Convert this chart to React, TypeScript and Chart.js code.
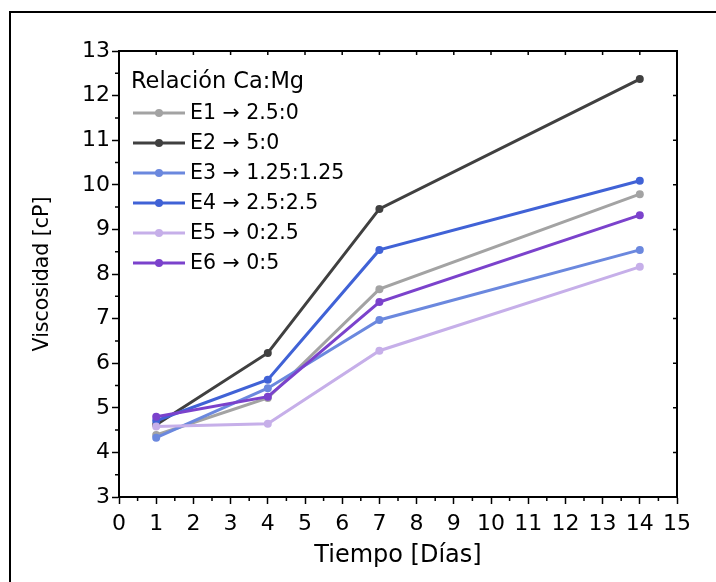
import { useEffect, useRef } from 'react';
import { Chart, registerables } from 'chart.js';
Chart.register(...registerables);

const days = [1, 4, 7, 14];
const seriesLabels = ['E1 → 2.5:0', 'E2 → 5:0', 'E3 → 1.25:1.25', 'E4 → 2.5:2.5', 'E5 → 0:2.5', 'E6 → 0:5'];
const e1 = [4.39, 5.22, 7.66, 9.79];
const e2 = [4.62, 6.23, 9.46, 12.37];
const e3 = [4.33, 5.44, 6.97, 8.54];
const e4 = [4.71, 5.63, 8.54, 10.09];
const e5 = [4.58, 4.64, 6.28, 8.16];
const e6 = [4.80, 5.25, 7.37, 9.32];
const seriesValues = [e1, e2, e3, e4, e5, e6];
const colors = ['#a3a3a3', '#404040', '#6b88de', '#4062d6', '#c6afe9', '#7b42cc'];
const legendTitle = 'Relación Ca:Mg';
const xTitle = 'Tiempo [Días]';
const yTitle = 'Viscosidad [cP]';
const xMin = 0, xMax = 15, yMin = 3, yMax = 13;

const FONT = 'DejaVu Sans';

const framePlugin = {
  id: 'framePlugin',
  afterDraw(chart: any) {
    const { ctx, chartArea } = chart;
    const xs = chart.scales.x;
    const ys = chart.scales.y;
    ctx.save();
    ctx.strokeStyle = '#000';
    ctx.lineWidth = 2;
    ctx.beginPath();
    ctx.moveTo(chartArea.left, chartArea.top);
    ctx.lineTo(chartArea.right, chartArea.top);
    ctx.lineTo(chartArea.right, chartArea.bottom);
    ctx.stroke();
    ctx.lineWidth = 1.5;
    ctx.beginPath();
    for (let v = xMin + 0.5; v < xMax; v += 1) {
      const px = xs.getPixelForValue(v);
      ctx.moveTo(px, chartArea.bottom);
      ctx.lineTo(px, chartArea.bottom + 4);
    }
    for (let v = yMin + 0.5; v < yMax; v += 1) {
      const py = ys.getPixelForValue(v);
      ctx.moveTo(chartArea.left, py);
      ctx.lineTo(chartArea.left - 4, py);
    }
    for (let v = xMin + 1; v < xMax; v += 1) {
      const px = xs.getPixelForValue(v);
      ctx.moveTo(px, chartArea.top);
      ctx.lineTo(px, chartArea.top + 4);
    }
    for (let v = yMin + 1; v < yMax; v += 1) {
      const py = ys.getPixelForValue(v);
      ctx.moveTo(chartArea.right, py);
      ctx.lineTo(chartArea.right - 4, py);
    }
    ctx.stroke();
    ctx.lineWidth = 2;
    ctx.strokeRect(10, 12, 720, 600);

    ctx.fillStyle = '#000';
    ctx.textBaseline = 'middle';
    ctx.textAlign = 'left';
    ctx.font = `22.5px "${FONT}"`;
    ctx.fillText(legendTitle, 131, 82);
    ctx.font = `20.5px "${FONT}"`;
    chart.data.datasets.forEach((ds: any, i: number) => {
      const y = 113 + i * 30;
      ctx.strokeStyle = ds.borderColor;
      ctx.lineWidth = 3;
      ctx.beginPath();
      ctx.moveTo(133, y);
      ctx.lineTo(185, y);
      ctx.stroke();
      ctx.fillStyle = ds.borderColor;
      ctx.beginPath();
      ctx.arc(159, y, 4, 0, Math.PI * 2);
      ctx.fill();
      ctx.fillStyle = '#000';
      ctx.fillText(ds.label, 190, y + 1);
    });
    ctx.restore();
  },
};

export default function App() {
  const ref = useRef<HTMLCanvasElement>(null);
  useEffect(() => {
    if (!ref.current) return;
    const chart = new Chart(ref.current, {
      type: 'line',
      data: {
        datasets: seriesValues.map((vals, i) => ({
          label: seriesLabels[i],
          data: days.map((d, j) => ({ x: d, y: vals[j] })),
          borderColor: colors[i],
          backgroundColor: colors[i],
          pointBackgroundColor: colors[i],
          pointBorderColor: colors[i],
          borderWidth: 3,
          pointRadius: 4,
          pointBorderWidth: 0,
          tension: 0,
          order: seriesValues.length - i,
        })),
      },
      options: {
        responsive: false,
        animation: false,
        layout: { padding: { left: 0, right: 39, top: 51, bottom: 0 } },
        plugins: { legend: { display: false }, tooltip: { enabled: false } },
        scales: {
          x: {
            type: 'linear',
            min: xMin,
            max: xMax,
            afterFit(scale: any) { scale.height = 85; },
            ticks: { stepSize: 1, color: '#000', font: { family: FONT, size: 22 }, padding: 7, maxRotation: 0, autoSkip: false },
            grid: { display: true, drawOnChartArea: false, drawTicks: true, tickLength: 7, tickWidth: 1.5, tickColor: '#000' },
            border: { display: true, color: '#000', width: 2 },
            title: { display: true, text: xTitle, color: '#000', font: { family: FONT, size: 24 }, padding: { top: 0, bottom: 12 } },
          },
          y: {
            type: 'linear',
            min: yMin,
            max: yMax,
            afterFit(scale: any) { scale.width = 119; },
            ticks: { stepSize: 1, color: '#000', font: { family: FONT, size: 22 }, padding: 2, autoSkip: false },
            grid: { display: true, drawOnChartArea: false, drawTicks: true, tickLength: 7, tickWidth: 1.5, tickColor: '#000' },
            border: { display: true, color: '#000', width: 2 },
            title: { display: true, text: yTitle, color: '#000', font: { family: FONT, size: 20.5 }, padding: { top: 30, bottom: 0 } },
          },
        },
      },
      plugins: [framePlugin],
    } as any);
    return () => chart.destroy();
  }, []);
  return (
    <div style={{ position: 'fixed', left: 0, top: 0, width: 716, height: 582, background: '#fff' }}>
      <canvas ref={ref} width={716} height={582} />
    </div>
  );
}
